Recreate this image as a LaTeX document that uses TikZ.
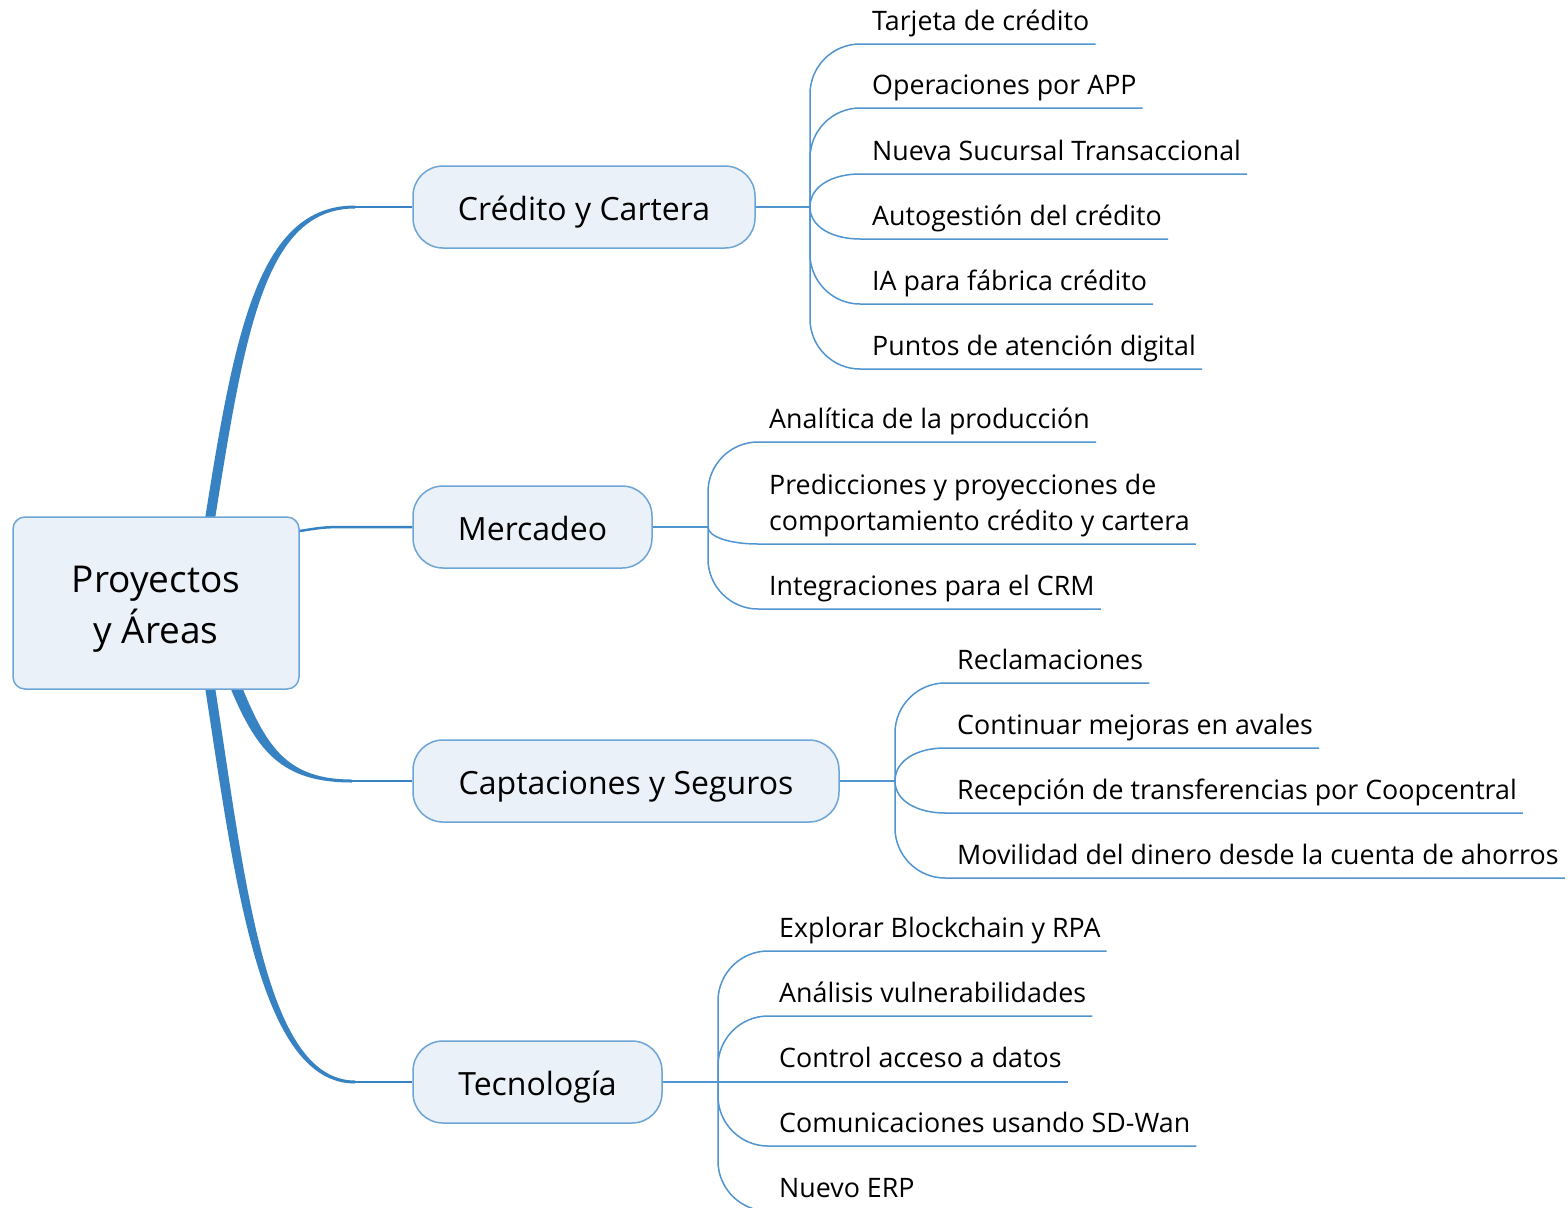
\documentclass[tikz,border=0pt]{standalone}
\usepackage{fontspec}
\setmainfont{Open Sans}
\definecolor{branch}{RGB}{55,130,195}
\definecolor{thinline}{RGB}{80,148,208}
\definecolor{boxfill}{RGB}{234,241,248}
\definecolor{boxline}{RGB}{110,165,215}
\begin{document}
\begin{tikzpicture}[x=1pt,y=-1pt,
  rootbox/.style={draw=boxline, fill=boxfill, line width=1.5pt, rounded corners=12pt,
    minimum width=286pt, minimum height=172pt, align=center, inner sep=0pt,
    text height=85pt, text depth=5pt,
    font=\fontsize{37}{51}\selectfont},
  topicbox/.style={draw=boxline, fill=boxfill, line width=1.5pt, rounded corners=30pt,
    minimum height=82pt, inner sep=0pt, text height=30pt, text depth=3pt,
    font=\fontsize{32}{38}\selectfont},
  subtext/.style={anchor=base west, inner xsep=6pt, inner ysep=0pt,
    font=\fontsize{26.8}{36}\selectfont},
  sublink/.style={draw=thinline, line width=1.5pt},
  thickbranch/.style={fill=branch, draw=none},
]
\useasboundingbox (0,0) rectangle (1567,1208);
\clip (0,0) rectangle (1567,1208);

% ---------- main branches (tapered) ----------
\fill[thickbranch] (205,519) .. controls (235,329) and (259,205.5) .. (355,205.5)
  -- (355,208.5) .. controls (265,208.5) and (245,331) .. (215,519) -- cycle;
\fill[thickbranch] (205,687) .. controls (235,881) and (259,1083.5) .. (355,1083.5)
  -- (355,1080.5) .. controls (265,1080.5) and (245,879) .. (215,687) -- cycle;
\fill[thickbranch] (230,687) .. controls (257,752) and (282,782.5) .. (352,782.5)
  -- (352,779.5) .. controls (288,779.5) and (267,748) .. (242,687) -- cycle;

% ---------- nodes ----------
\node[rootbox] (root) at (156,603) {Proyectos\\y Áreas};
\node[topicbox, minimum width=342pt] (cred) at (584,207) {Crédito y Cartera};
\node[topicbox, minimum width=239pt] (merc) at (532.5,527) {Mercadeo};
\node[topicbox, minimum width=426pt] (capt) at (626,781) {Captaciones y Seguros};
\node[topicbox, minimum width=249pt] (tecn) at (537.5,1082) {Tecnología};

\coordinate (kc) at (355,207);
\coordinate (km) at (355,527);
\coordinate (ka) at (350,781);
\coordinate (kt) at (355,1082);
\draw[branch, line width=2pt] (kc) -- (cred.west);
\draw[branch, line width=2.5pt] (root.east |- 0,531) .. controls (325,527) .. (km) -- (merc.west);
\draw[branch, line width=2pt] (ka) -- (capt.west);
\draw[branch, line width=2pt] (kt) -- (tecn.west);

% ---------- Crédito y Cartera ----------
\coordinate (jc) at (810,207);
\draw[sublink] (cred.east) -- (jc);
\node[subtext] (c1) at (866,30) {Tarjeta de crédito};
\node[subtext] (c2) at (866,94) {Operaciones por APP};
\node[subtext] (c3) at (866,160) {Nueva Sucursal Transaccional};
\node[subtext] (c4) at (866,225) {Autogestión del crédito};
\node[subtext] (c5) at (866,290) {IA para fábrica crédito};
\node[subtext] (c6) at (866,355) {Puntos de atención digital};
\draw[sublink] (jc) -- (810,94) .. controls (810,66.5) and (832.5,44) .. (860,44) -- (c1.east |- 0,44);
\draw[sublink] (jc) -- (810,158) .. controls (810,130.5) and (832.5,108) .. (860,108) -- (c2.east |- 0,108);
\draw[sublink] (jc) .. controls (810,186) and (832.5,174) .. (860,174) -- (c3.east |- 0,174);
\draw[sublink] (jc) .. controls (810,227) and (832.5,239) .. (860,239) -- (c4.east |- 0,239);
\draw[sublink] (jc) -- (810,254) .. controls (810,281.5) and (832.5,304) .. (860,304) -- (c5.east |- 0,304);
\draw[sublink] (jc) -- (810,319) .. controls (810,346.5) and (832.5,369) .. (860,369) -- (c6.east |- 0,369);

% ---------- Mercadeo ----------
\coordinate (jm) at (708,527);
\draw[sublink] (merc.east) -- (jm);
\node[subtext] (m1) at (763,428) {Analítica de la producción};
\node[subtext, align=left] (m2) at (763,530) {Predicciones y proyecciones de\\comportamiento crédito y cartera};
\node[subtext] (m3) at (763,595) {Integraciones para el CRM};
\draw[sublink] (jm) -- (708,492) .. controls (708,464.5) and (730.5,442) .. (758,442) -- (m1.east |- 0,442);
\draw[sublink] (jm) .. controls (708,537) and (730.5,544) .. (758,544) -- (m2.east |- 0,544);
\draw[sublink] (jm) -- (708,559) .. controls (708,586.5) and (730.5,609) .. (758,609) -- (m3.east |- 0,609);

% ---------- Captaciones y Seguros ----------
\coordinate (ja) at (895,781);
\draw[sublink] (capt.east) -- (ja);
\node[subtext] (a1) at (951,669) {Reclamaciones};
\node[subtext] (a2) at (951,734) {Continuar mejoras en avales};
\node[subtext] (a3) at (951,799) {Recepción de transferencias por Coopcentral};
\node[subtext] (a4) at (951,864) {Movilidad del dinero desde la cuenta de ahorros};
\draw[sublink] (ja) -- (895,733) .. controls (895,705.5) and (917.5,683) .. (945,683) -- (a1.east |- 0,683);
\draw[sublink] (ja) .. controls (895,760) and (917.5,748) .. (945,748) -- (a2.east |- 0,748);
\draw[sublink] (ja) .. controls (895,801) and (917.5,813) .. (945,813) -- (a3.east |- 0,813);
\draw[sublink] (ja) -- (895,828) .. controls (895,855.5) and (917.5,878) .. (945,878) -- (a4.east |- 0,878);

% ---------- Tecnología ----------
\coordinate (jt) at (718,1082);
\draw[sublink] (tecn.east) -- (jt);
\node[subtext] (t1) at (773,937) {Explorar Blockchain y RPA};
\node[subtext] (t2) at (773,1002) {Análisis vulnerabilidades};
\node[subtext] (t3) at (773,1067) {Control acceso a datos};
\node[subtext] (t4) at (773,1132) {Comunicaciones usando SD-Wan};
\node[subtext] (t5) at (773,1197) {Nuevo ERP};
\draw[sublink] (jt) -- (718,1001) .. controls (718,973.5) and (740.5,951) .. (768,951) -- (t1.east |- 0,951);
\draw[sublink] (jt) -- (718,1066) .. controls (718,1038.5) and (740.5,1016) .. (768,1016) -- (t2.east |- 0,1016);
\draw[sublink] (jt) -- (t3.east |- 0,1082);
\draw[sublink] (jt) -- (718,1096) .. controls (718,1123.5) and (740.5,1146) .. (768,1146) -- (t4.east |- 0,1146);
\draw[sublink] (jt) -- (718,1161) .. controls (718,1188.5) and (740.5,1211) .. (768,1211) -- (t5.east |- 0,1211);
\end{tikzpicture}
\end{document}
